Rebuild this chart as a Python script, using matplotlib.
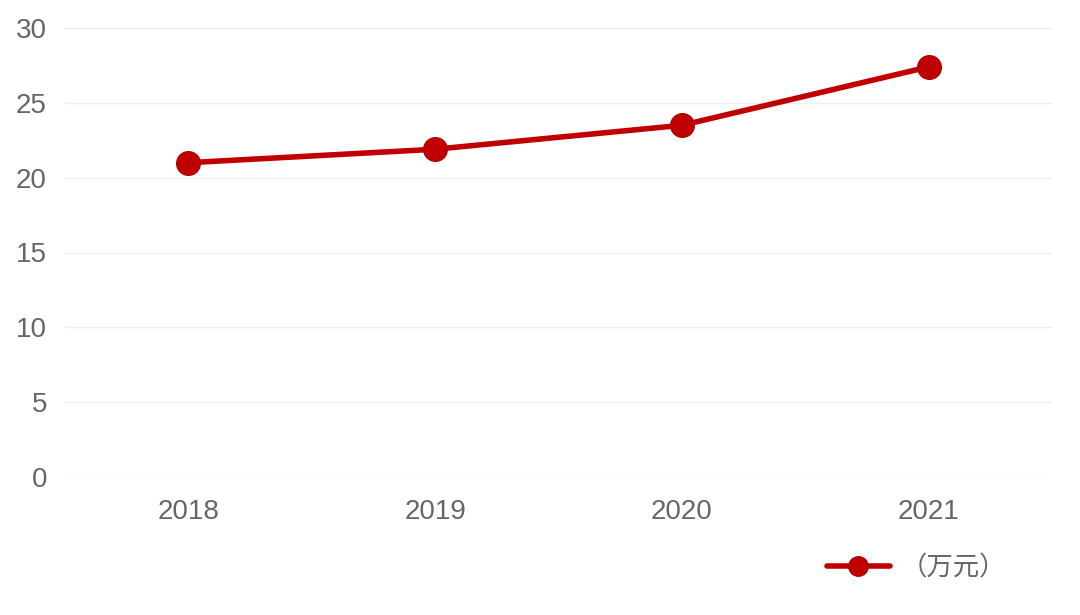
import matplotlib
matplotlib.use('Agg')
import matplotlib.pyplot as plt

years = ['2018', '2019', '2020', '2021']
values = [21.0, 21.9, 23.5, 27.4]
y_ticks = [0, 5, 10, 15, 20, 25, 30]
legend_label = '（万元）'

red = '#c00000'
grey = '#666666'

fig = plt.figure(figsize=(10.8, 6.15), dpi=100)
ax = fig.add_axes([65 / 1080, 138 / 615, 987 / 1080, 449 / 615])

x = list(range(len(years)))
ax.plot(x, values, color=red, linewidth=4, marker='o', markersize=17,
        markerfacecolor=red, markeredgecolor='#b00000', markeredgewidth=1.0,
        solid_capstyle='round', label=legend_label, zorder=3)

ax.set_xlim(-0.5, len(years) - 0.5)
ax.set_ylim(0, 30)
ax.set_yticks(y_ticks)
ax.set_xticks(x)
ax.set_xticklabels(years)

ax.grid(axis='y', color='#eeeeee', linewidth=1)
ax.set_axisbelow(True)
for s in ax.spines.values():
    s.set_visible(False)
ax.tick_params(length=0, labelsize=20, labelcolor=grey)
ax.tick_params(axis='y', pad=13)
ax.tick_params(axis='x', pad=16)
for lab in ax.get_xticklabels() + ax.get_yticklabels():
    lab.set_family(['Liberation Sans', 'DejaVu Sans'])

leg = ax.legend(loc='center left', bbox_to_anchor=(816 / 1080, 47 / 615),
                bbox_transform=fig.transFigure, frameon=False,
                handlelength=2.4, handletextpad=0.4, borderaxespad=0,
                prop={'family': ['Noto Sans CJK SC', 'DejaVu Sans'], 'size': 19})
for h in leg.legend_handles:
    h.set_markersize(14)
for t in leg.get_texts():
    t.set_color(grey)

fig.savefig('out.png', dpi=100, facecolor='white')
